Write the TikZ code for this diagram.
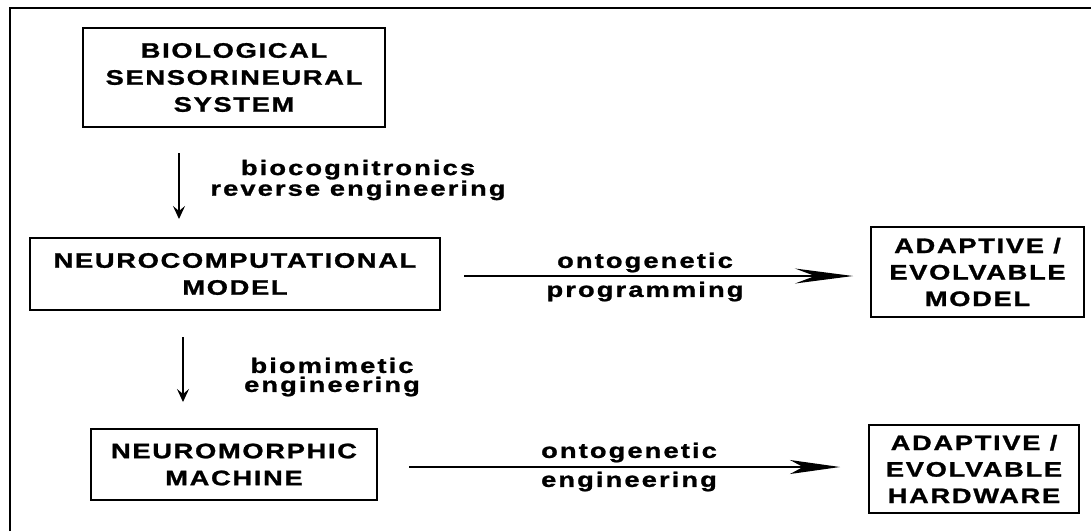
\documentclass[tikz,border=0pt]{standalone}
\usepackage{fontspec}
\usetikzlibrary{arrows.meta}
\newfontfamily\spacedfont{Liberation Sans Bold}[FakeStretch=1.3,LetterSpace=8,FakeBold=1.2]
\newfontfamily\spacedlow{Liberation Sans Bold}[FakeStretch=1.3,LetterSpace=10,FakeBold=1.2]
\tikzset{
  bx/.style={draw, line width=2.2pt, align=center, inner sep=0pt, font=\spacedfont\fontsize{21}{27}\selectfont},
  plainbox/.style={bx, font=\spacedfont\fontsize{21}{26.5}\selectfont},
  uplabel/.style={align=center, inner sep=0pt, font=\spacedlow\fontsize{21}{19}\selectfont},
  lowlabel/.style={align=center, inner sep=0pt, font=\spacedlow\fontsize{21}{29}\selectfont},
  varrow/.style={line width=1.2pt, -{Stealth[length=13pt, width=12pt, inset=5pt]}},
  harrowa/.style={line width=1.4pt, -{Stealth[length=58pt, width=15pt, inset=20pt]}},
  harrowb/.style={line width=1.4pt, -{Stealth[length=50pt, width=14pt, inset=13pt]}},
  frame/.style={line width=2pt}
}
\begin{document}
\begin{tikzpicture}[x=1pt, y=-1pt]
\useasboundingbox (0,0) rectangle (1091,531);
% outer frame (left and top)
\coordinate (fbl) at (10,531);
\coordinate (ftl) at (10,8);
\coordinate (ftr) at (1091,8);
\draw[frame] (fbl) -- (ftl) -- (ftr);
% boxes
\node[bx, minimum width=302pt, minimum height=99pt] (bio) at (234,77.5) {BIOLOGICAL\\SENSORINEURAL\\SYSTEM};
\node[bx, minimum width=410pt, minimum height=72pt] (neuro) at (235,274) {NEUROCOMPUTATIONAL\\MODEL};
\node[plainbox, minimum width=213pt, minimum height=90pt] (amodel) at (977.5,272) {ADAPTIVE /\\EVOLVABLE\\MODEL};
\node[bx, minimum width=286pt, minimum height=71pt] (morph) at (234,464.5) {NEUROMORPHIC\\MACHINE};
\node[plainbox, minimum width=210pt, minimum height=88pt] (ahw) at (974,469) {ADAPTIVE /\\EVOLVABLE\\HARDWARE};
% arrow end points
\coordinate (a1s) at (179,153);
\coordinate (a1e) at (179,219);
\coordinate (a2s) at (464,276);
\coordinate (a2e) at (853,276);
\coordinate (a3s) at (183,337);
\coordinate (a3e) at (183,402);
\coordinate (a4s) at (409,467);
\coordinate (a4e) at (840,467);
\draw[varrow] (a1s) -- (a1e);
\draw[varrow] (a3s) -- (a3e);
\draw[harrowa] (a2s) -- (a2e);
\draw[harrowb] (a4s) -- (a4e);
% labels
\node[uplabel] (l1) at (358,180) {biocognitronics\\reverse engineering};
\node[uplabel] (l2) at (332,377) {biomimetic\\engineering};
\node[lowlabel] (l3) at (645,277) {ontogenetic\\programming};
\node[lowlabel] (l4) at (629,467) {ontogenetic\\engineering};
\end{tikzpicture}
\end{document}
